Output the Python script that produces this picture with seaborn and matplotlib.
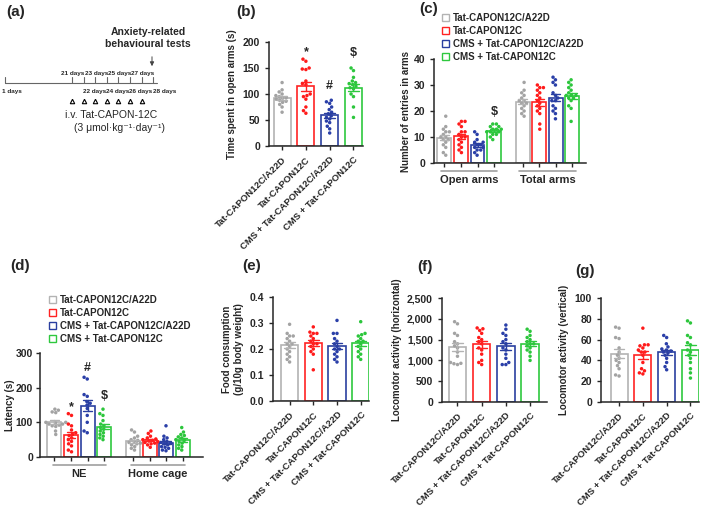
import numpy as np
import pandas as pd
import matplotlib
matplotlib.use("Agg")
import matplotlib.pyplot as plt
from matplotlib.patches import Patch
from matplotlib.ticker import FuncFormatter
import seaborn as sns

# --- Dados ---

groups = ["Tat-CAPON12C/A22D", "Tat-CAPON12C", "CMS + Tat-CAPON12C/A22D", "CMS + Tat-CAPON12C"]
bar_colors = ["#b3b3b3", "#ff2222", "#2a3fa0", "#2ec83e"]
dot_colors = ["#a3a3a3", "#ff1a1a", "#2a3fa8", "#2cc63c"]

# (b) tempo nos braços abertos (s)
open_time = [
    [122, 108, 104, 100, 97, 95, 93, 92, 90, 88, 86, 84, 80, 75, 65],
    [167, 163, 150, 148, 147, 125, 120, 118, 100, 97, 95, 90, 75, 68, 63],
    [88, 85, 82, 75, 70, 65, 62, 58, 55, 52, 48, 45, 38, 33, 25],
    [150, 145, 132, 125, 122, 120, 118, 115, 112, 110, 100, 95, 75, 55],
]

# (c) número de entradas
arm_cats = ["Open arms", "Total arms"]
entries_open = [
    [18, 14, 13, 12, 12, 11, 10, 10, 9, 9, 8, 7, 6, 4, 3],
    [16, 16, 15, 14, 12, 12, 11, 10, 10, 9, 8, 7, 6, 5, 4],
    [12, 11, 9, 8, 8, 7, 7, 6, 6, 5, 5, 4, 3],
    [15, 15, 14, 14, 13, 13, 13, 12, 12, 12, 11, 11, 10, 9],
]
entries_total = [
    [31, 28, 27, 26, 25, 24, 24, 23, 23, 22, 21, 20, 19, 18],
    [30, 29, 29, 28, 27, 26, 25, 24, 23, 22, 21, 20, 19, 15, 13],
    [33, 32, 31, 30, 24, 27, 26, 25, 24, 22, 21, 20, 19, 17],
    [32, 31, 30, 29, 28, 27, 26, 26, 26, 25, 25, 24, 22, 21, 16],
]

# (d) latência (s)
latency_cats = ["NE", "Home cage"]
latency_ne = [
    [138, 135, 130, 128, 100, 95, 100, 98, 95, 92, 90, 88, 75, 65],
    [125, 120, 95, 90, 78, 70, 65, 62, 55, 50, 45, 38, 32, 20, 15],
    [230, 225, 180, 175, 160, 155, 150, 140, 120, 100, 75, 70],
    [138, 125, 120, 105, 95, 90, 85, 80, 75, 70, 65, 60, 55, 50],
]
latency_home = [
    [78, 72, 60, 55, 50, 48, 45, 42, 40, 38, 35, 30, 25, 20],
    [75, 68, 60, 55, 52, 50, 48, 46, 44, 42, 40, 38, 35, 28],
    [90, 60, 55, 50, 45, 42, 40, 38, 35, 30, 28, 25, 20, 18],
    [85, 72, 65, 62, 58, 55, 50, 48, 45, 40, 35, 30, 25, 20],
]

# (e) consumo de ração
food = [
    [0.295, 0.26, 0.25, 0.25, 0.24, 0.23, 0.22, 0.22, 0.21, 0.20, 0.19, 0.18, 0.17, 0.15, 0.16],
    [0.285, 0.265, 0.26, 0.26, 0.25, 0.24, 0.23, 0.22, 0.22, 0.21, 0.20, 0.19, 0.18, 0.12],
    [0.31, 0.26, 0.26, 0.24, 0.23, 0.22, 0.21, 0.20, 0.20, 0.19, 0.18, 0.17, 0.16, 0.15],
    [0.305, 0.26, 0.255, 0.25, 0.24, 0.23, 0.23, 0.22, 0.21, 0.20, 0.19, 0.18, 0.17, 0.16],
]

# (f) atividade horizontal
loco_h = [
    [1930, 1880, 1650, 1600, 1450, 1400, 1350, 1300, 1200, 1100, 950, 930, 920, 900],
    [1780, 1760, 1720, 1650, 1550, 1500, 1450, 1400, 1300, 1250, 1150, 1000, 950, 900],
    [1850, 1750, 1650, 1600, 1500, 1450, 1400, 1300, 1250, 1150, 1050, 950, 900, 900],
    [1750, 1700, 1600, 1550, 1500, 1450, 1400, 1400, 1350, 1300, 1250, 1200, 1100, 1000],
]

# (g) atividade vertical
loco_v = [
    [72, 71, 62, 61, 52, 48, 45, 42, 40, 38, 35, 32, 26, 25],
    [71, 55, 54, 52, 50, 48, 45, 48, 38, 55, 32, 30, 28, 27],
    [64, 62, 56, 53, 51, 50, 49, 48, 47, 45, 42, 38, 34, 31],
    [78, 76, 64, 62, 57, 55, 50, 48, 45, 42, 38, 32, 28, 23],
]

# (a) linha do tempo
top_days = [21, 23, 25, 27]
bottom_days = [22, 24, 26, 28]
injection_days = [21, 22, 23, 24, 25, 26, 27]

# --- Configurações de plotagem ---

sns.set_style("ticks")
plt.rcParams["font.family"] = ["Liberation Sans", "DejaVu Sans"]
plt.rcParams["font.weight"] = "bold"
plt.rcParams["axes.labelweight"] = "bold"
plt.rcParams["axes.linewidth"] = 1.1
plt.rcParams["xtick.major.width"] = 1.0
plt.rcParams["ytick.major.width"] = 1.0
plt.rcParams["xtick.major.size"] = 3
plt.rcParams["ytick.major.size"] = 3
plt.rcParams["xtick.labelsize"] = 6.8
plt.rcParams["ytick.labelsize"] = 7.5

W, H = 709, 522
fig = plt.figure(figsize=(W / 100, H / 100), dpi=100)

# camada de fundo em pixels para o esquema (a) e as letras dos painéis
ax0 = fig.add_axes([0, 0, 1, 1])
ax0.set_xlim(0, W)
ax0.set_ylim(H, 0)
ax0.axis("off")


def px_axes(x0, y0, x1, y1):
    """Cria eixos a partir de coordenadas em pixels (origem no topo)."""
    return fig.add_axes([x0 / W, (H - y1) / H, (x1 - x0) / W, (y1 - y0) / H])


def long_df(values_by_group, cat=None):
    rows = []
    for g, vals in zip(groups, values_by_group):
        for v in vals:
            rows.append({"group": g, "value": v, "cat": cat})
    return pd.DataFrame(rows)


def color_errorbars(ax):
    """Pinta as barras de erro com a cor da borda da barra correspondente."""
    for line in ax.lines:
        xm = np.nanmean(line.get_xdata())
        for p in ax.patches:
            if p.get_x() <= xm <= p.get_x() + p.get_width():
                line.set_color(p.get_edgecolor())
                line.set_zorder(4)
                break


def simple_panel(ax, values, ylabel, yticks, xlim):
    df = long_df(values)
    sns.barplot(data=df, x="group", y="value", hue="group", order=groups, hue_order=groups,
                palette=bar_colors, fill=False, errorbar="se", capsize=0.45, width=0.72,
                linewidth=1.2, err_kws={"linewidth": 1.0}, legend=False, ax=ax)
    sns.swarmplot(data=df, x="group", y="value", hue="group", order=groups, hue_order=groups,
                  palette=dot_colors, size=2.5, legend=False, ax=ax)
    color_errorbars(ax)
    ax.set_ylim(yticks[0], yticks[-1])
    ax.set_yticks(yticks)
    ax.set_xlim(*xlim)
    ax.set_xlabel("")
    ax.set_ylabel(ylabel, fontsize=7)
    ax.set_xticks(range(len(groups)))
    ax.set_xticklabels(groups, rotation=45, ha="right", rotation_mode="anchor")
    sns.despine(ax=ax)


def grouped_panel(ax, df, cats, ylabel, yticks, xlim, half):
    sns.barplot(data=df, x="cat", y="value", hue="group", order=cats, hue_order=groups,
                palette=bar_colors, fill=False, errorbar="se", capsize=0.45, width=0.845, gap=0.16,
                linewidth=1.2, err_kws={"linewidth": 1.0}, legend=False, ax=ax)
    sns.swarmplot(data=df, x="cat", y="value", hue="group", order=cats, hue_order=groups,
                  palette=dot_colors, dodge=True, size=2.5, legend=False, ax=ax)
    color_errorbars(ax)
    centers = sorted(p.get_x() + p.get_width() / 2 for p in ax.patches)
    ax.set_xticks(centers)
    ax.set_xticklabels([])
    ax.set_ylim(yticks[0], yticks[-1])
    ax.set_yticks(yticks)
    ax.set_xlabel("")
    ax.set_ylabel(ylabel, fontsize=7, labelpad=2)
    trans = ax.get_xaxis_transform()
    for i, name in enumerate(cats):
        ax.plot([i - half, i + half], [-0.075, -0.075], transform=trans, color="#a0a0a0",
                lw=1.2, clip_on=False)
        ax.text(i, -0.12, name, transform=trans, ha="center", va="top", fontsize=8, fontweight="bold")
    ax.set_xlim(*xlim)
    sns.despine(ax=ax)


def legend_at(x, y):
    handles = [Patch(facecolor="white", edgecolor=c, linewidth=1.0) for c in bar_colors]
    fig.legend(handles, groups, loc="upper left", bbox_to_anchor=(x / W, 1 - y / H),
               frameon=False, fontsize=7, handlelength=0.75, handleheight=0.75,
               handletextpad=0.4, labelspacing=0.3, borderaxespad=0, borderpad=0)


# --- (a) esquema ---

def day_x(d):
    return 5 if d == 1 else 72 + (d - 21) * 11.6

ax0.plot([day_x(1), day_x(28) + 4], [83, 83], color="#666666", lw=0.8)
for d in [1] + list(range(21, 29)):
    ax0.plot([day_x(d), day_x(d)], [77, 83], color="#666666", lw=0.8)
ax0.text(day_x(1) - 3, 91, "1 days", fontsize=4.6, fontweight="bold", va="center")
for d in top_days:
    ax0.text(day_x(d) + 1, 73, f"{d} days", fontsize=4.6, fontweight="bold", ha="center", va="center")
for d in bottom_days:
    ax0.text(day_x(d) + 11, 91, f"{d} days", fontsize=4.6, fontweight="bold", ha="center", va="center")
ax0.plot([day_x(d) for d in injection_days], [101] * len(injection_days), ls="none",
         marker="^", ms=3.2, mfc="white", mec="black", mew=0.8)
ax0.text(148, 38, "Anxiety-related\nbehavioural tests", fontsize=7.5, fontweight="bold",
         ha="center", va="center", linespacing=1.2)
ax0.annotate("", xy=(152, 69), xytext=(152, 54),
             arrowprops=dict(arrowstyle="-|>", color="#444444", lw=0.7, mutation_scale=6))
ax0.text(111, 115, "i.v. Tat-CAPON-12C", fontsize=7.5, fontweight="normal", ha="center", va="center")
ax0.text(119, 128, "(3 μmol·kg⁻¹·day⁻¹)", fontsize=7.5, fontweight="normal", ha="center",
         va="center", family=["Liberation Sans", "DejaVu Sans"])

# letras dos painéis
for lab, x, y in [("(a)", 6, 12), ("(b)", 236, 12), ("(c)", 419, 9), ("(d)", 10, 266),
                  ("(e)", 242, 266), ("(f)", 417, 267), ("(g)", 575, 271)]:
    ax0.text(x, y, lab, fontsize=11, fontweight="bold", va="center", ha="left")

# --- (b) ---
ax_b = px_axes(269, 42, 363, 146)
simple_panel(ax_b, open_time, "Time spent in open arms (s)", [0, 50, 100, 150, 200], (-0.55, 3.4))
for x, y, s in [(1, 180, "*"), (2, 116, "#"), (3, 178, "$")]:
    ax_b.text(x, y, s, ha="center", va="center", fontsize=9, fontweight="bold")

# --- (c) ---
ax_c = px_axes(434, 59, 586, 163)
df_c = pd.concat([long_df(entries_open, arm_cats[0]), long_df(entries_total, arm_cats[1])])
grouped_panel(ax_c, df_c, arm_cats, "Number of entries in arms", [0, 10, 20, 30, 40], (-0.45, 1.49), 0.36)
ax_c.text(0.316, 19.5, "$", ha="center", va="center", fontsize=9, fontweight="bold")
legend_at(442, 13)

# --- (d) ---
ax_d = px_axes(40, 353, 203, 457)
df_d = pd.concat([long_df(latency_ne, latency_cats[0]), long_df(latency_home, latency_cats[1])])
grouped_panel(ax_d, df_d, latency_cats, "Latency (s)", [0, 100, 200, 300], (-0.5, 1.57), 0.34)
ax_d.yaxis.labelpad = 0.5
ax_d.tick_params(axis="y", pad=2)
for x, y, s in [(-0.105, 145, "*"), (0.105, 258, "#"), (0.316, 176, "$")]:
    ax_d.text(x, y, s, ha="center", va="center", fontsize=9, fontweight="bold")
legend_at(49, 295)

# --- (e) ---
ax_e = px_axes(273, 297, 369, 401)
simple_panel(ax_e, food, "Food consumption\n(g/10g body weight)", [0, 0.1, 0.2, 0.3, 0.4], (-0.7, 3.35))
ax_e.yaxis.set_major_formatter(FuncFormatter(lambda v, p: f"{v:.1f}"))

# --- (f) ---
ax_f = px_axes(442, 298, 547, 402)
simple_panel(ax_f, loco_h, "Locomotor activity (horizontal)", [0, 500, 1000, 1500, 2000, 2500], (-0.64, 3.7))
ax_f.yaxis.set_major_formatter(FuncFormatter(lambda v, p: f"{int(v):,}"))

# --- (g) ---
ax_g = px_axes(601, 298, 699, 402)
simple_panel(ax_g, loco_v, "Locomotor activity (vertical)", [0, 20, 40, 60, 80, 100], (-0.76, 3.36))

fig.savefig("out.png", dpi=100)
plt.close(fig)
